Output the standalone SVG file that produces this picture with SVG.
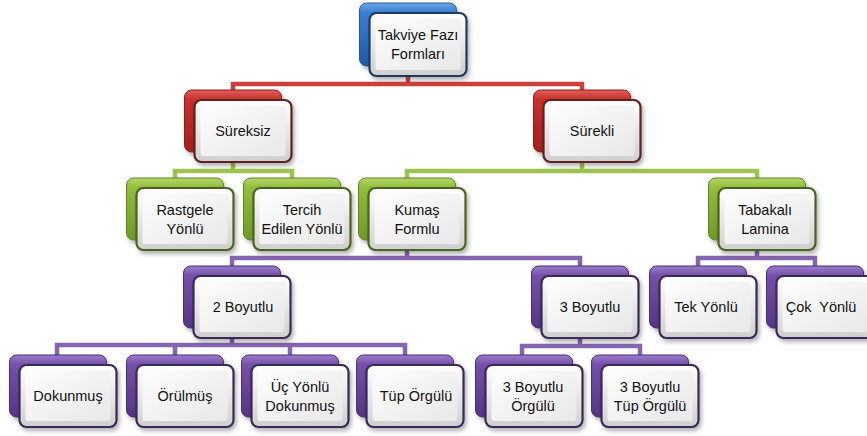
<svg xmlns="http://www.w3.org/2000/svg" width="867" height="436" viewBox="0 0 867 436">
<defs>
<filter id="sh" x="-20%" y="-20%" width="150%" height="150%">
<feDropShadow dx="2" dy="3" stdDeviation="2" flood-color="#000" flood-opacity="0.3"/>
</filter>
<linearGradient id="gBlue" x1="0" y1="0" x2="0" y2="1"><stop offset="0" stop-color="#6aa6e6"/><stop offset="0.15" stop-color="#3a7fcf"/><stop offset="1" stop-color="#1f5aa6"/></linearGradient>
<linearGradient id="gRed" x1="0" y1="0" x2="0" y2="1"><stop offset="0" stop-color="#e0605c"/><stop offset="0.15" stop-color="#c9302c"/><stop offset="1" stop-color="#a11f1d"/></linearGradient>
<linearGradient id="gGreen" x1="0" y1="0" x2="0" y2="1"><stop offset="0" stop-color="#b5d86a"/><stop offset="0.15" stop-color="#92bd3c"/><stop offset="1" stop-color="#6e9a28"/></linearGradient>
<linearGradient id="gPurple" x1="0" y1="0" x2="0" y2="1"><stop offset="0" stop-color="#9c7ccc"/><stop offset="0.15" stop-color="#7551a8"/><stop offset="1" stop-color="#553585"/></linearGradient>
<linearGradient id="gFront" x1="0" y1="0" x2="0" y2="1"><stop offset="0" stop-color="#ffffff"/><stop offset="1" stop-color="#cfcfcf"/></linearGradient>
<linearGradient id="gInner" x1="0" y1="0" x2="1" y2="1"><stop offset="0" stop-color="#fdfdfd"/><stop offset="1" stop-color="#e8e8e8"/></linearGradient>
</defs>
<style>
.c{fill:none;stroke-width:4.5;stroke-linejoin:miter}
.cr{stroke:#c9403d}.cg{stroke:#9bc44f}.cp{stroke:#8565b0}
.bk{filter:url(#sh)}
.fr{fill:url(#gFront);stroke-width:2.2;filter:url(#sh)}
.in{fill:url(#gInner)}
.blue .bk{fill:url(#gBlue);stroke:#2c5a92}.blue .fr{stroke:#1f3a5f}
.red .bk{fill:url(#gRed);stroke:#8f1f1c}.red .fr{stroke:#5e2220}
.green .bk{fill:url(#gGreen);stroke:#5e8424}.green .fr{stroke:#4a6320}
.purple .bk{fill:url(#gPurple);stroke:#49306f}.purple .fr{stroke:#3a2a55}
text{font-family:"Liberation Sans",Arial,sans-serif;font-size:14.5px;fill:#111;text-anchor:middle}
</style>
<rect width="867" height="436" fill="#fff"/>
<g id="connectors">
<path class="c cr" d="M408 70 V84 M233 92 V84 H582 V92"/>
<path class="c cg" d="M233 160 V171 M175 180 V171 H292 V180"/>
<path class="c cg" d="M582 160 V171 M407 180 V171 H757 V180"/>
<path class="c cp" d="M407 250 V258 M232 268 V258 H580 V268"/>
<path class="c cp" d="M757 250 V258 M698 268 V258 H815 V268"/>
<path class="c cp" d="M232 335 V345 M57 357 V345 H405 V357 M175 357 V345 M290 357 V345"/>
<path class="c cp" d="M580 335 V346 M522 357 V346 H640 V357"/>
</g>
<g id="n-takviye" class="blue">
<rect class="bk" x="359.5" y="3" width="97" height="63" rx="7"/>
<rect class="fr" x="369.5" y="13" width="97" height="63" rx="7"/>
<rect class="in" x="375.5" y="19" width="85" height="51" rx="3"/>
<text x="418" y="40">Takviye Fazı</text><text x="418" y="59">Formları</text>
</g>
<g id="n-sureksiz" class="red">
<rect class="bk" x="184.5" y="90" width="97" height="62" rx="7"/>
<rect class="fr" x="194.5" y="100" width="97" height="62" rx="7"/>
<rect class="in" x="200.5" y="106" width="85" height="50" rx="3"/>
<text x="243" y="136">Süreksiz</text>
</g>
<g id="n-surekli" class="red">
<rect class="bk" x="533.5" y="90" width="97" height="62" rx="7"/>
<rect class="fr" x="543.5" y="100" width="97" height="62" rx="7"/>
<rect class="in" x="549.5" y="106" width="85" height="50" rx="3"/>
<text x="592" y="136">Sürekli</text>
</g>
<g id="n-rastgele" class="green">
<rect class="bk" x="126.5" y="178" width="97" height="62" rx="7"/>
<rect class="fr" x="136.5" y="188" width="97" height="62" rx="7"/>
<rect class="in" x="142.5" y="194" width="85" height="50" rx="3"/>
<text x="185" y="215">Rastgele</text><text x="185" y="234">Yönlü</text>
</g>
<g id="n-tercih" class="green">
<rect class="bk" x="243.5" y="178" width="97" height="62" rx="7"/>
<rect class="fr" x="253.5" y="188" width="97" height="62" rx="7"/>
<rect class="in" x="259.5" y="194" width="85" height="50" rx="3"/>
<text x="302" y="215">Tercih</text><text x="302" y="234">Edilen Yönlü</text>
</g>
<g id="n-kumas" class="green">
<rect class="bk" x="358.5" y="178" width="97" height="62" rx="7"/>
<rect class="fr" x="368.5" y="188" width="97" height="62" rx="7"/>
<rect class="in" x="374.5" y="194" width="85" height="50" rx="3"/>
<text x="417" y="215">Kumaş</text><text x="417" y="234">Formlu</text>
</g>
<g id="n-tabakali" class="green">
<rect class="bk" x="708.5" y="178" width="97" height="62" rx="7"/>
<rect class="fr" x="718.5" y="188" width="97" height="62" rx="7"/>
<rect class="in" x="724.5" y="194" width="85" height="50" rx="3"/>
<text x="765" y="215">Tabakalı</text><text x="765" y="234">Lamina</text>
</g>
<g id="n-2boyutlu" class="purple">
<rect class="bk" x="183.5" y="266" width="97" height="62" rx="7"/>
<rect class="fr" x="193.5" y="276" width="97" height="62" rx="7"/>
<rect class="in" x="199.5" y="282" width="85" height="50" rx="3"/>
<text x="243" y="312">2 Boyutlu</text>
</g>
<g id="n-3boyutlu" class="purple">
<rect class="bk" x="531.5" y="266" width="97" height="62" rx="7"/>
<rect class="fr" x="541.5" y="276" width="97" height="62" rx="7"/>
<rect class="in" x="547.5" y="282" width="85" height="50" rx="3"/>
<text x="590" y="312">3 Boyutlu</text>
</g>
<g id="n-tek" class="purple">
<rect class="bk" x="649.5" y="266" width="97" height="62" rx="7"/>
<rect class="fr" x="659.5" y="276" width="97" height="62" rx="7"/>
<rect class="in" x="665.5" y="282" width="85" height="50" rx="3"/>
<text x="706" y="312">Tek Yönlü</text>
</g>
<g id="n-cok" class="purple">
<rect class="bk" x="766.5" y="266" width="97" height="62" rx="7"/>
<rect class="fr" x="776.5" y="276" width="97" height="62" rx="7"/>
<rect class="in" x="782.5" y="282" width="85" height="50" rx="3"/>
<text x="821" y="312" xml:space="preserve">Çok  Yönlü</text>
</g>
<g id="n-dokunmus" class="purple">
<rect class="bk" x="9.5" y="355" width="97" height="62" rx="7"/>
<rect class="fr" x="19.5" y="365" width="97" height="62" rx="7"/>
<rect class="in" x="25.5" y="371" width="85" height="50" rx="3"/>
<text x="68" y="401">Dokunmuş</text>
</g>
<g id="n-orulmus" class="purple">
<rect class="bk" x="126.5" y="355" width="97" height="62" rx="7"/>
<rect class="fr" x="136.5" y="365" width="97" height="62" rx="7"/>
<rect class="in" x="142.5" y="371" width="85" height="50" rx="3"/>
<text x="185" y="401">Örülmüş</text>
</g>
<g id="n-ucyonlu" class="purple">
<rect class="bk" x="241.5" y="355" width="97" height="62" rx="7"/>
<rect class="fr" x="251.5" y="365" width="97" height="62" rx="7"/>
<rect class="in" x="257.5" y="371" width="85" height="50" rx="3"/>
<text x="300" y="392">Üç Yönlü</text><text x="300" y="411">Dokunmuş</text>
</g>
<g id="n-tuporgulu" class="purple">
<rect class="bk" x="356.5" y="355" width="97" height="62" rx="7"/>
<rect class="fr" x="366.5" y="365" width="97" height="62" rx="7"/>
<rect class="in" x="372.5" y="371" width="85" height="50" rx="3"/>
<text x="416" y="401">Tüp Örgülü</text>
</g>
<g id="n-3borgulu" class="purple">
<rect class="bk" x="475.5" y="355" width="97" height="62" rx="7"/>
<rect class="fr" x="485.5" y="365" width="97" height="62" rx="7"/>
<rect class="in" x="491.5" y="371" width="85" height="50" rx="3"/>
<text x="533" y="392">3 Boyutlu</text><text x="533" y="411">Örgülü</text>
</g>
<g id="n-3btup" class="purple">
<rect class="bk" x="591.5" y="355" width="97" height="62" rx="7"/>
<rect class="fr" x="601.5" y="365" width="97" height="62" rx="7"/>
<rect class="in" x="607.5" y="371" width="85" height="50" rx="3"/>
<text x="650" y="392">3 Boyutlu</text><text x="650" y="411">Tüp Örgülü</text>
</g>
</svg>
